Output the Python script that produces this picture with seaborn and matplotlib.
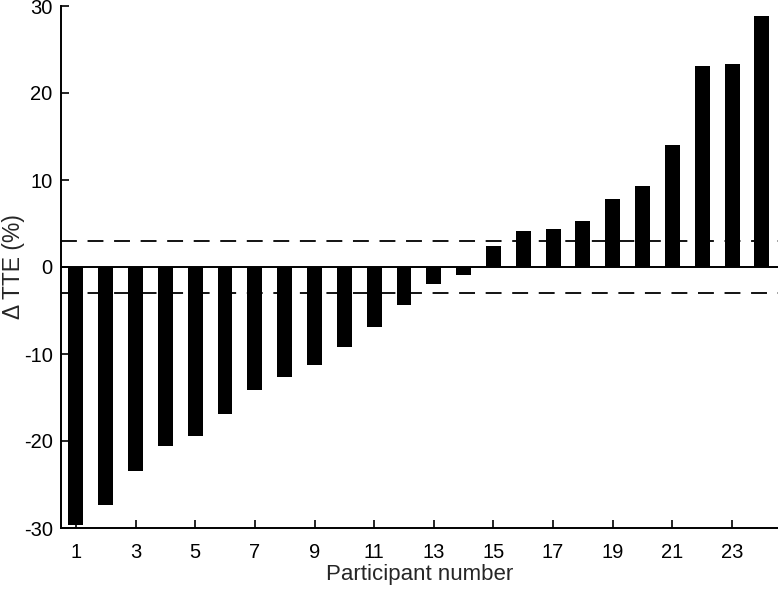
import matplotlib
matplotlib.use("Agg")
import matplotlib.pyplot as plt
import seaborn as sns
import pandas as pd

participants = list(range(1, 25))
delta_tte = [-29.7, -27.4, -23.5, -20.6, -19.4, -16.9, -14.1, -12.6, -11.3, -9.2,
             -6.9, -4.4, -1.95, -0.92, 2.45, 4.1, 4.4, 5.3, 7.8, 9.35,
             14.0, 23.1, 23.3, 28.9]
tick_labels = [1, 3, 5, 7, 9, 11, 13, 15, 17, 19, 21, 23]
yticks = [-30, -20, -10, 0, 10, 20, 30]
threshold = 3

sns.set_theme(style="ticks")
plt.rcParams['font.family'] = ['Liberation Sans', 'DejaVu Sans']

df = pd.DataFrame({"participant": participants, "tte": delta_tte})

fig = plt.figure(figsize=(7.78, 5.90), dpi=100)
ax = fig.add_axes([61/778, 62/590, 717/778, 522/590])

sns.barplot(data=df, x="participant", y="tte", native_scale=True, width=0.5,
            color="black", saturation=1, linewidth=0, ax=ax)

dash = (0, (8.8, 5.9))
ax.axhline(0, color="black", lw=1.4, zorder=3)
ax.axhline(threshold, color="black", lw=1.3, ls=dash, zorder=3)
ax.axhline(-threshold, color="black", lw=1.3, ls=dash, zorder=3)

ax.set_xlim(0.5, 24.54)
ax.set_ylim(-30, 30)
ax.set_xticks(tick_labels)
ax.set_xticklabels([str(t) for t in tick_labels])
ax.set_yticks(yticks)
ax.set_yticklabels([str(t) for t in yticks])

for s in ["top", "right"]:
    ax.spines[s].set_visible(False)
for s in ["left", "bottom"]:
    ax.spines[s].set_linewidth(1.4)
    ax.spines[s].set_color("black")

ax.tick_params(direction="in", length=6, width=1.2, labelsize=14.5, colors="black", pad=6)
ax.tick_params(axis="x", pad=11)
ax.set_xlabel("Participant number", fontsize=16, labelpad=1)
ax.set_ylabel("Δ TTE (%)", fontsize=16.5)
ax.yaxis.label.set_va("center")
ax.yaxis.set_label_coords((14 - 61) / 717, 0.5)

fig.savefig("out.png", dpi=100)
